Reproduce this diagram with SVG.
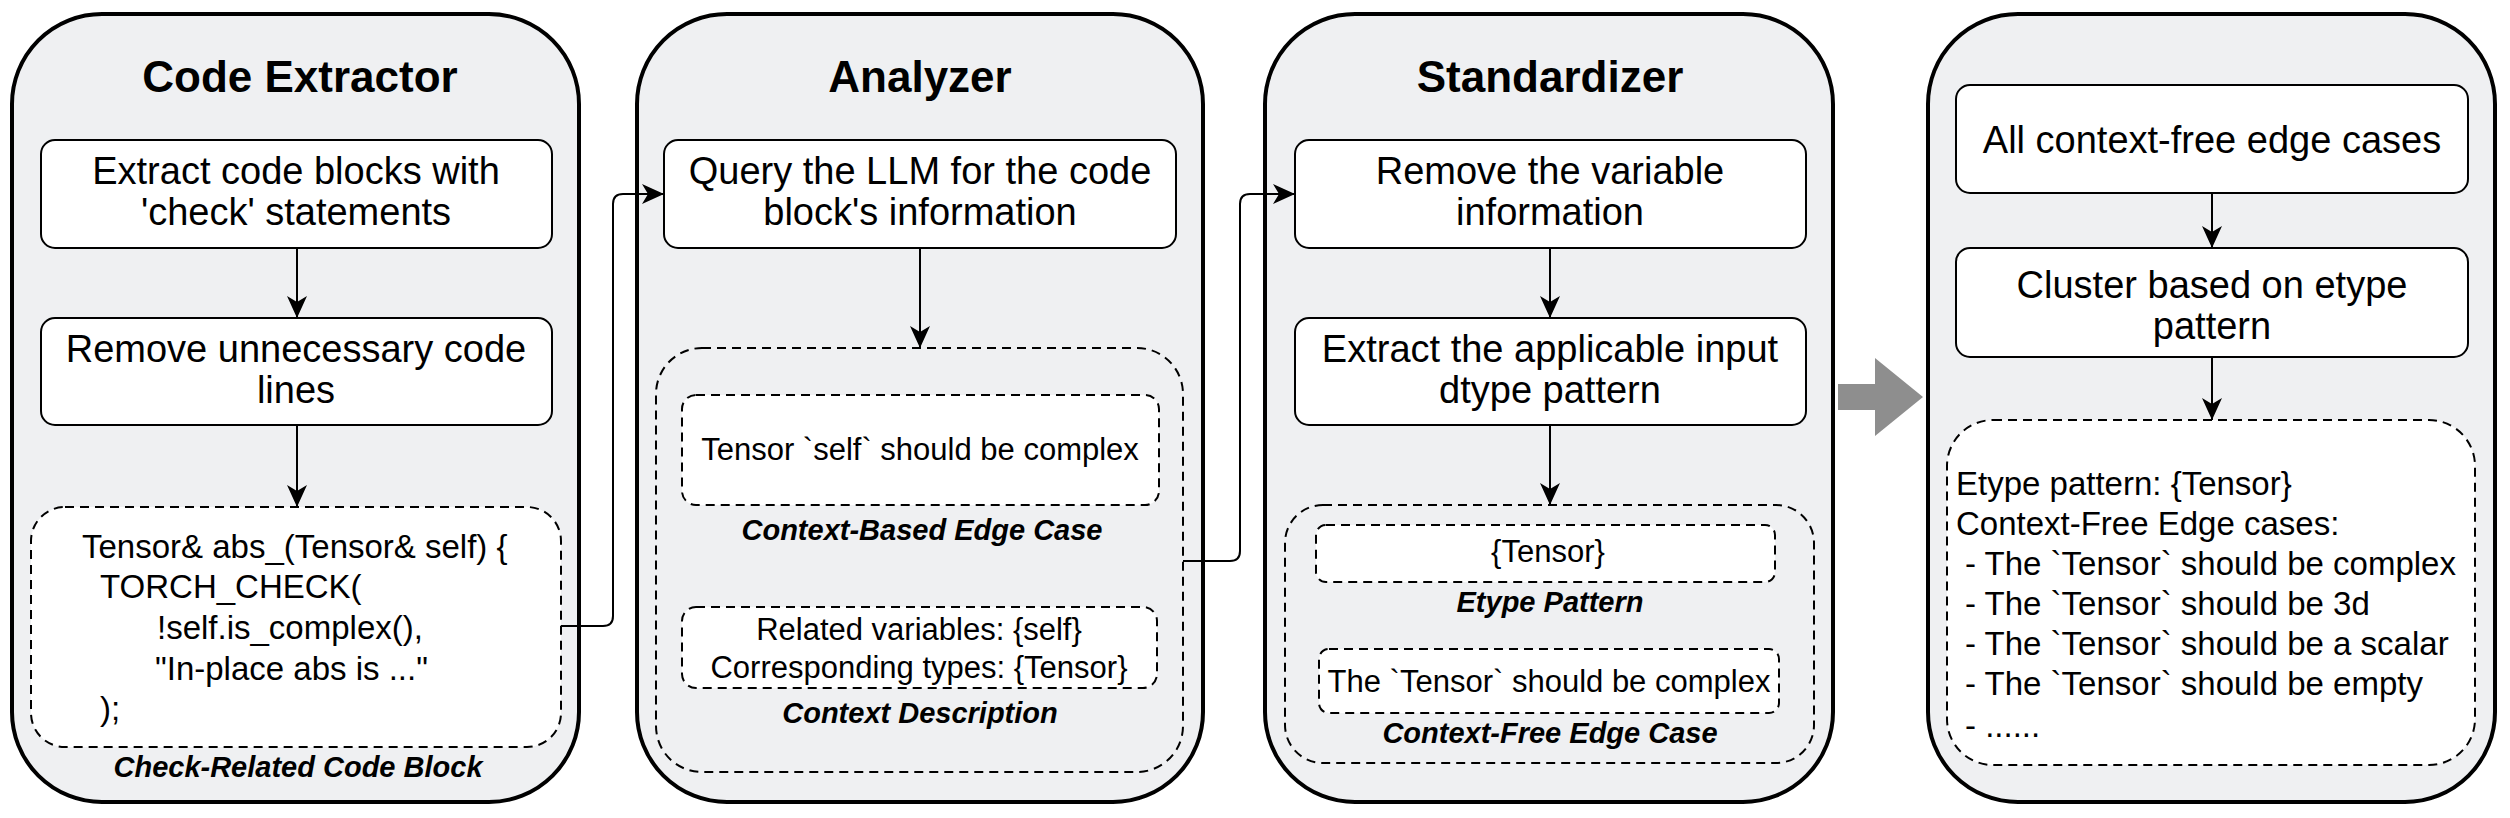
<svg xmlns="http://www.w3.org/2000/svg" width="2510" height="818" viewBox="0 0 2510 818">
<defs>
<marker id="arr" markerUnits="userSpaceOnUse" markerWidth="22" markerHeight="20" viewBox="0 0 22 20" refX="22" refY="10" orient="auto">
<path d="M0,0 L22,10 L0,20 L6,10 Z" fill="#000"/>
</marker>
<style>
.outer{fill:#eff0f2;stroke:#000;stroke-width:4}
.step{fill:#fff;stroke:#000;stroke-width:2}
.dash{fill:#fff;stroke:#000;stroke-width:2;stroke-dasharray:9 6}
.dashn{fill:none;stroke:#000;stroke-width:2;stroke-dasharray:9 6}
.title{font-family:'Liberation Sans',Arial,Helvetica,sans-serif;font-weight:bold;font-size:44px;text-anchor:middle}
.t{font-family:'Liberation Sans',Arial,Helvetica,sans-serif;font-size:38px;text-anchor:middle}
.code{font-family:'Liberation Sans',Arial,Helvetica,sans-serif;font-size:33px}
.s{font-family:'Liberation Sans',Arial,Helvetica,sans-serif;font-size:31px;text-anchor:middle}
.list{font-family:'Liberation Sans',Arial,Helvetica,sans-serif;font-size:33px}
.cap{font-family:'Liberation Sans',Arial,Helvetica,sans-serif;font-size:29px;font-weight:bold;font-style:italic;text-anchor:middle}
.conn{fill:none;stroke:#000;stroke-width:2}
</style>
</defs>

<g id="code-extractor">
<rect class="outer" x="12" y="14" width="567" height="788" rx="90" ry="90"/>
<text class="title" x="300" y="92">Code Extractor</text>
</g>
<g id="extract-blocks">
<rect class="step" x="41" y="140" width="511" height="108" rx="14"/>
<text class="t" x="296" y="184">Extract code blocks with</text>
<text class="t" x="296" y="225">'check' statements</text>
</g>
<g id="remove-lines">
<rect class="step" x="41" y="318" width="511" height="107" rx="14"/>
<text class="t" x="296" y="362">Remove unnecessary code</text>
<text class="t" x="296" y="403">lines</text>
</g>
<g id="code-block">
<rect class="dash" x="31" y="507" width="530" height="240" rx="34"/>
<text class="code" x="82" y="558">Tensor&amp; abs_(Tensor&amp; self) {</text>
<text class="code" x="100" y="598">TORCH_CHECK(</text>
<text class="code" x="157" y="639">!self.is_complex(),</text>
<text class="code" x="155" y="680">"In-place abs is ..."</text>
<text class="code" x="100" y="720">);</text>
<text class="cap" x="298" y="777">Check-Related Code Block</text>
</g>

<g id="analyzer">
<rect class="outer" x="637" y="14" width="566" height="788" rx="90" ry="90"/>
<text class="title" x="920" y="92">Analyzer</text>
</g>
<g id="query-llm">
<rect class="step" x="664" y="140" width="512" height="108" rx="14"/>
<text class="t" x="920" y="184">Query the LLM for the code</text>
<text class="t" x="920" y="225">block's information</text>
</g>
<g id="analyzer-output">
<rect class="dashn" x="656" y="348" width="527" height="424" rx="46"/>
</g>
<g id="context-based-edge-case">
<rect class="dash" x="682" y="395" width="477" height="110" rx="14"/>
<text class="s" x="920" y="460">Tensor `self` should be complex</text>
<text class="cap" x="922" y="540">Context-Based Edge Case</text>
</g>
<g id="context-description">
<rect class="dash" x="682" y="607" width="475" height="81" rx="14"/>
<text class="s" x="919" y="640">Related variables: {self}</text>
<text class="s" x="919" y="678">Corresponding types: {Tensor}</text>
<text class="cap" x="920" y="723">Context Description</text>
</g>

<g id="standardizer">
<rect class="outer" x="1265" y="14" width="568" height="788" rx="90" ry="90"/>
<text class="title" x="1550" y="92">Standardizer</text>
</g>
<g id="remove-variable">
<rect class="step" x="1295" y="140" width="511" height="108" rx="14"/>
<text class="t" x="1550" y="184">Remove the variable</text>
<text class="t" x="1550" y="225">information</text>
</g>
<g id="extract-pattern">
<rect class="step" x="1295" y="318" width="511" height="107" rx="14"/>
<text class="t" x="1550" y="362">Extract the applicable input</text>
<text class="t" x="1550" y="403">dtype pattern</text>
</g>
<g id="standardizer-output">
<rect class="dashn" x="1285" y="505" width="529" height="258" rx="38"/>
</g>
<g id="etype-pattern">
<rect class="dash" x="1316" y="525" width="459" height="57" rx="10"/>
<text class="s" x="1548" y="562">{Tensor}</text>
<text class="cap" x="1550" y="612">Etype Pattern</text>
</g>
<g id="context-free-edge-case">
<rect class="dash" x="1319" y="649" width="460" height="64" rx="10"/>
<text class="s" x="1549" y="692">The `Tensor` should be complex</text>
<text class="cap" x="1550" y="743">Context-Free Edge Case</text>
</g>

<g id="big-arrow">
<polygon points="1838,384 1875,384 1875,358 1923,397 1875,436 1875,410 1838,410" fill="#8e8e8e"/>
</g>

<g id="clusterer">
<rect class="outer" x="1928" y="14" width="567" height="788" rx="90" ry="90"/>
</g>
<g id="all-edge-cases">
<rect class="step" x="1956" y="85" width="512" height="108" rx="14"/>
<text class="t" x="2212" y="153">All context-free edge cases</text>
</g>
<g id="cluster">
<rect class="step" x="1956" y="248" width="512" height="109" rx="14"/>
<text class="t" x="2212" y="298">Cluster based on etype</text>
<text class="t" x="2212" y="339">pattern</text>
</g>
<g id="cluster-result">
<rect class="dash" x="1947" y="420" width="528" height="345" rx="46"/>
<text class="list" x="1956" y="495">Etype pattern: {Tensor}</text>
<text class="list" x="1956" y="535">Context-Free Edge cases:</text>
<text class="list" x="1965" y="575">- The `Tensor` should be complex</text>
<text class="list" x="1965" y="615">- The `Tensor` should be 3d</text>
<text class="list" x="1965" y="655">- The `Tensor` should be a scalar</text>
<text class="list" x="1965" y="695">- The `Tensor` should be empty</text>
<text class="list" x="1965" y="737">- ......</text>
</g>

<g id="connectors">
<path class="conn" d="M297,248 V318" marker-end="url(#arr)"/>
<path class="conn" d="M297,425 V507" marker-end="url(#arr)"/>
<path class="conn" d="M561,626 H603 Q613,626 613,616 V204 Q613,194 623,194 H664" marker-end="url(#arr)"/>
<path class="conn" d="M920,248 V348" marker-end="url(#arr)"/>
<path class="conn" d="M1183,561 H1230 Q1240,561 1240,551 V204 Q1240,194 1250,194 H1295" marker-end="url(#arr)"/>
<path class="conn" d="M1550,248 V318" marker-end="url(#arr)"/>
<path class="conn" d="M1550,425 V505" marker-end="url(#arr)"/>
<path class="conn" d="M2212,193 V248" marker-end="url(#arr)"/>
<path class="conn" d="M2212,357 V420" marker-end="url(#arr)"/>
</g>
</svg>
